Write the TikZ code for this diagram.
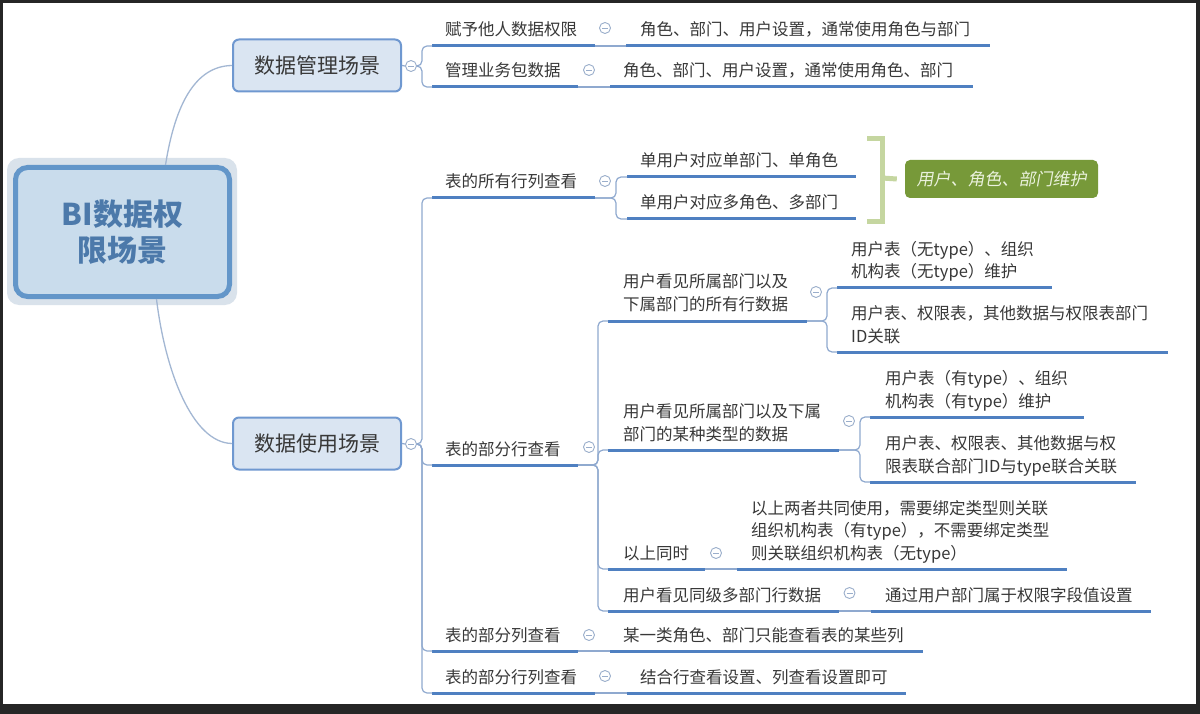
\documentclass[tikz,border=0pt]{standalone}
\usepackage{fontspec}
\setmainfont{Noto Sans CJK SC}
\newfontfamily\slantcjk[FakeSlant=0.18]{Noto Sans CJK SC}
\definecolor{framec}{HTML}{262626}
\definecolor{txtc}{HTML}{383838}
\definecolor{ulc}{HTML}{4F80C1}
\definecolor{linkc}{HTML}{8FA9CF}
\definecolor{rootlinkc}{HTML}{A3B7D3}
\definecolor{colc}{HTML}{9AAECB}
\definecolor{boxfill}{HTML}{DAE5F2}
\definecolor{boxdraw}{HTML}{6F98D0}
\definecolor{rootfill}{HTML}{C9DCEC}
\definecolor{rootdraw}{HTML}{6396C9}
\definecolor{roottxt}{HTML}{4C79AA}
\definecolor{glowc}{HTML}{D9E2EB}
\definecolor{brackc}{HTML}{C5D6A0}
\definecolor{gfill}{HTML}{779939}
\definecolor{gtxt}{HTML}{EAF1DC}
\newcommand\mltext[1]{\begin{tabular}[b]{@{}l@{}}#1\end{tabular}}
\newcommand\tline[4]{\coordinate (#1s) at (#2,#4); \coordinate (#1e) at (#3,#4); \draw[uline] (#1s) -- (#1e);}
\tikzset{
  uline/.style={draw=ulc, line width=3pt},
  link/.style={draw=linkc, line width=1.2pt, rounded corners=5pt},
  rootlink/.style={draw=rootlinkc, line width=1.3pt},
  txt/.style={inner sep=0pt, anchor=base west, text=txtc, font=\fontsize{16.5}{22.5}\selectfont},
  mainbox/.style={draw=boxdraw, fill=boxfill, line width=2pt, rounded corners=6pt,
    minimum width=168pt, minimum height=52pt, inner sep=0pt, text=txtc, font=\fontsize{21}{25}\selectfont},
  rootbox/.style={draw=rootdraw, fill=rootfill, line width=5pt, rounded corners=12pt,
    minimum width=214pt, minimum height=129pt, inner sep=0pt, align=center, text=roottxt,
    font=\fontsize{30}{36}\selectfont\bfseries},
  col/.style={circle, draw=colc, line width=0.9pt, fill=white, minimum size=11pt, inner sep=0pt,
    path picture={\draw[colc, line width=0.9pt] ([xshift=-3pt]path picture bounding box.center) -- ([xshift=3pt]path picture bounding box.center);}},
  gbox/.style={fill=gfill, rounded corners=5pt, minimum width=193pt, minimum height=38pt, inner sep=0pt,
    text=gtxt, font=\fontsize{17}{20}\slantcjk},
  brack/.style={draw=brackc, line width=5pt}
}
\begin{document}
\begin{tikzpicture}[x=1pt,y=-1pt]
\useasboundingbox (0,0) rectangle (1200,714);
\fill[framec] (0,0) rectangle (1200,714);
\fill[white] (3,3) rectangle (1196,704);

% root glow and root
\fill[glowc, rounded corners=12pt] (7,158) rectangle (237,305);
\node[rootbox] (R) at (122.5,232) {BI数据权\\限场景};

% main topics
\node[mainbox] (A) at (317,65.5) {数据管理场景};
\node[mainbox] (B) at (317,443.5) {数据使用场景};

\draw[rootlink] ([xshift=43pt]R.north) .. controls (175,105) and (195,66) .. (A.west);
\draw[rootlink] ([xshift=34pt]R.south) .. controls (165,370) and (192,443) .. (B.west);

% underlines
\tline{a1}{432}{595}{46}
\tline{a1a}{626}{990}{46}
\tline{a2}{432}{578}{87}
\tline{a2a}{610}{973}{87}
\tline{b1}{432}{595}{198}
\tline{b1a}{627}{856}{177}
\tline{b1b}{627}{856}{219}
\tline{b2}{432}{578}{465}
\tline{b3}{432}{578}{651}
\tline{b3a}{610}{923}{651}
\tline{b4}{432}{595}{693}
\tline{b4a}{627}{906}{693}
\tline{c1}{608}{807}{321}
\tline{c1a}{837}{1052}{288}
\tline{c1b}{837}{1168}{352}
\tline{c2}{608}{839}{450}
\tline{c2a}{870}{1084}{417}
\tline{c2b}{870}{1136}{482}
\tline{c3}{608}{705}{569}
\tline{c3a}{737}{1067}{569}
\tline{c4}{608}{839}{611}
\tline{c4a}{871}{1151}{611}

% collapse circles
\node[col] (cA) at (411,66) {};
\node[col] (cB) at (411,444) {};
\node[col] (a1c) at (605,28) {};
\node[col] (a2c) at (589,70) {};
\node[col] (b1c) at (605,181) {};
\node[col] (b2c) at (589,447) {};
\node[col] (b3c) at (589,635) {};
\node[col] (b4c) at (605,676) {};
\node[col] (c1c) at (816,292) {};
\node[col] (c2c) at (849,421) {};
\node[col] (c3c) at (716,553) {};
\node[col] (c4c) at (849.5,593) {};

% connectors
\draw[link] (A.east) -- (cA.west);
\draw[link] (B.east) -- (cB.west);
\draw[link] (cA.east) -- ++(5,0) |- (a1s);
\draw[link] (cA.east) -- ++(5,0) |- (a2s);
\draw[link] (cB.east) -- ++(5,0) |- (b1s);
\draw[link] (cB.east) -- ++(5,0) |- (b2s);
\draw[link] (cB.east) -- ++(5,0) |- (b3s);
\draw[link] (cB.east) -- ++(5,0) |- (b4s);
\draw[link] (a1e) -- (a1as);
\draw[link] (a2e) -- (a2as);
\draw[link] (b1e) -- ++(21,0) |- (b1as);
\draw[link] (b1e) -- ++(21,0) |- (b1bs);
\draw[link] (b2e) -- ++(20,0) |- (c1s);
\draw[link] (b2e) -- ++(20,0) |- (c2s);
\draw[link] (b2e) -- ++(20,0) |- (c3s);
\draw[link] (b2e) -- ++(20,0) |- (c4s);
\draw[link] (b3e) -- (b3as);
\draw[link] (b4e) -- (b4as);
\draw[link] (c1e) -- ++(20,0) |- (c1as);
\draw[link] (c1e) -- ++(20,0) |- (c1bs);
\draw[link] (c2e) -- ++(21,0) |- (c2as);
\draw[link] (c2e) -- ++(21,0) |- (c2bs);
\draw[link] (c3e) -- (c3as);
\draw[link] (c4e) -- (c4as);

% texts
\node[txt] (a1t) at (445,36) {赋予他人数据权限};
\node[txt] (a1at) at (640,36) {角色、部门、用户设置，通常使用角色与部门};
\node[txt] (a2t) at (445,77) {管理业务包数据};
\node[txt] (a2at) at (623,77) {角色、部门、用户设置，通常使用角色、部门};
\node[txt] (b1t) at (445,188) {表的所有行列查看};
\node[txt] (b1at) at (640,167) {单用户对应单部门、单角色};
\node[txt] (b1bt) at (640,209) {单用户对应多角色、多部门};
\node[txt] (b2t) at (445,455) {表的部分行查看};
\node[txt] (b3t) at (445,641) {表的部分列查看};
\node[txt] (b3at) at (623,641) {某一类角色、部门只能查看表的某些列};
\node[txt] (b4t) at (445,683) {表的部分行列查看};
\node[txt] (b4at) at (640,683) {结合行查看设置、列查看设置即可};
\node[txt] (c1t) at (623,310) {\mltext{用户看见所属部门以及\\下属部门的所有行数据}};
\node[txt] (c1at) at (851,278) {\mltext{用户表（无type）、组织\\机构表（无type）维护}};
\node[txt] (c1bt) at (851,342) {\mltext{用户表、权限表，其他数据与权限表部门\\ID关联}};
\node[txt] (c2t) at (623,440) {\mltext{用户看见所属部门以及下属\\部门的某种类型的数据}};
\node[txt] (c2at) at (885,407) {\mltext{用户表（有type）、组织\\机构表（有type）维护}};
\node[txt] (c2bt) at (885,472) {\mltext{用户表、权限表、其他数据与权\\限表联合部门ID与type联合关联}};
\node[txt] (c3t) at (623,559) {以上同时};
\node[txt] (c3at) at (751,559) {\mltext{以上两者共同使用，需要绑定类型则关联\\组织机构表（有type），不需要绑定类型\\则关联组织机构表（无type）}};
\node[txt] (c4t) at (623,601) {用户看见同级多部门行数据};
\node[txt] (c4at) at (885,601) {通过用户部门属于权限字段值设置};

% summary bracket and label
\node[gbox] (G) at (1001.5,179) {用户、角色、部门维护};
\draw[brack] (867,139) -- (882,139) -- (882,222) -- (867,222);
\draw[brack] (882,178) -- ([xshift=-8pt]G.west);
\end{tikzpicture}
\end{document}
